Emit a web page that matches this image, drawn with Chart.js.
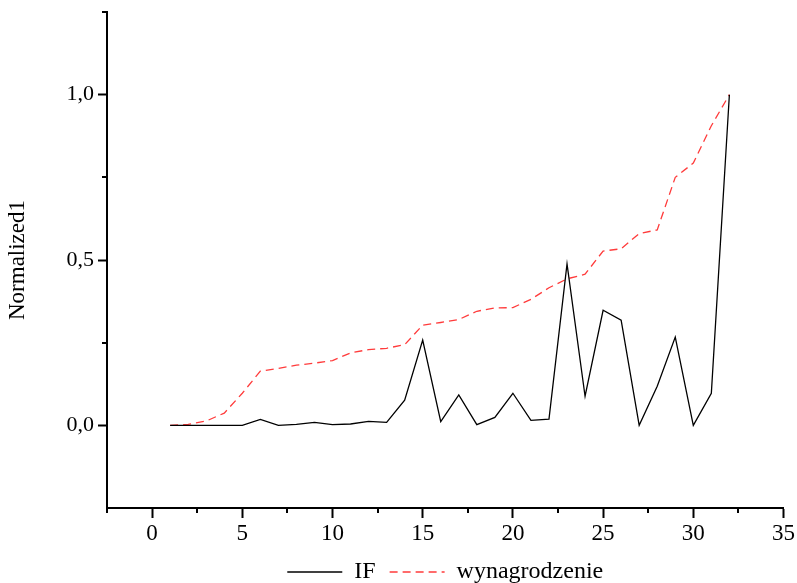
<!DOCTYPE html>
<html>
<head>
<meta charset="utf-8">
<script src="https://cdn.jsdelivr.net/npm/chart.js@4.4.0/dist/chart.umd.min.js"></script>
<style>
  html, body { margin: 0; padding: 0; background: #fff; }
  #wrap { width: 797px; height: 583px; }
</style>
</head>
<body>
<div id="wrap"><canvas id="chart"></canvas></div>
<script>
const xValues = [1, 2, 3, 4, 5, 6, 7, 8, 9, 10, 11, 12, 13, 14, 15, 16,
  17, 18, 19, 20, 21, 22, 23, 24, 25, 26, 27, 28, 29, 30, 31, 32];
const ifValues = [0.0, 0.0, 0.0, 0.0, 0.0, 0.018, 0.0, 0.003, 0.009, 0.002, 0.004, 0.012,
  0.009, 0.076, 0.258, 0.011, 0.092, 0.002, 0.024, 0.097, 0.015, 0.019,
  0.488, 0.088, 0.348, 0.318, 0.0, 0.118, 0.267, 0.0, 0.097, 1.0];
const wageValues = [0.0, 0.003, 0.013, 0.037, 0.097, 0.164, 0.172, 0.182, 0.188, 0.196,
  0.219, 0.229, 0.233, 0.244, 0.303, 0.311, 0.32, 0.345, 0.355, 0.356, 0.381,
  0.416, 0.443, 0.457, 0.527, 0.534, 0.58, 0.591, 0.75, 0.793, 0.906, 1.0];
const xTicks = [0, 5, 10, 15, 20, 25, 30, 35];
const xMinorTicks = [-2.5, 2.5, 7.5, 12.5, 17.5, 22.5, 27.5, 32.5];
const yTicks = [0, 0.5, 1.0];
const yMinorTicks = [0.25, 0.75, 1.25];

const FONT = '"Liberation Serif", "DejaVu Serif", serif';

// short outward ticks between the labelled ones
const minorTicks = {
  id: 'minorTicks',
  afterDraw(chart) {
    const { ctx, scales: { x, y } } = chart;
    ctx.save();
    ctx.strokeStyle = '#000';
    ctx.lineWidth = 2;
    ctx.beginPath();
    xMinorTicks.forEach(v => {
      const px = Math.round(x.getPixelForValue(v));
      ctx.moveTo(px, y.bottom);
      ctx.lineTo(px, y.bottom + 5);
    });
    yMinorTicks.forEach(v => {
      const py = Math.round(y.getPixelForValue(v));
      ctx.moveTo(x.left, py);
      ctx.lineTo(x.left - 5, py);
    });
    ctx.stroke();
    ctx.restore();
  }
};

new Chart(document.getElementById('chart'), {
  type: 'line',
  data: {
    datasets: [
      {
        label: 'IF',
        data: xValues.map((v, i) => ({ x: v, y: ifValues[i] })),
        borderColor: '#000',
        borderWidth: 1.3,
        pointRadius: 0,
        tension: 0
      },
      {
        label: 'wynagrodzenie',
        data: xValues.map((v, i) => ({ x: v, y: wageValues[i] })),
        borderColor: '#ff3b3b',
        borderWidth: 1.3,
        borderDash: [8, 5],
        pointRadius: 0,
        tension: 0
      }
    ]
  },
  options: {
    responsive: true,
    maintainAspectRatio: false,
    animation: false,
    layout: { padding: { top: 12, right: 11, left: 0, bottom: -11 } },
    plugins: {
      tooltip: { enabled: false },
      legend: {
        position: 'bottom',
        fullSize: false,
        labels: {
          usePointStyle: true,
          pointStyle: 'line',
          pointStyleWidth: 55,
          color: '#000',
          padding: 14,
          font: { family: FONT, size: 24 },
          generateLabels: chart => {
            const items = Chart.defaults.plugins.legend.labels.generateLabels(chart);
            items.forEach(it => {
              const ds = chart.data.datasets[it.datasetIndex];
              it.lineDash = ds.borderDash || [];
              it.lineWidth = ds.borderWidth;
            });
            return items;
          }
        }
      }
    },
    scales: {
      x: {
        type: 'linear',
        min: -2.5,
        max: 35,
        afterBuildTicks: s => { s.ticks = xTicks.map(v => ({ value: v })); },
        afterFit: s => { s.height = 38; },
        ticks: { color: '#000', font: { family: FONT, size: 23 }, padding: 2, maxRotation: 0 },
        grid: { drawOnChartArea: false, tickLength: 10, tickColor: '#000', tickWidth: 2 },
        border: { color: '#000', width: 2 }
      },
      y: {
        min: -0.25,
        max: 1.25,
        afterBuildTicks: s => { s.ticks = yTicks.map(v => ({ value: v })); },
        afterFit: s => { s.width = 107; s.paddingTop = 0; },
        ticks: {
          color: '#000',
          font: { family: FONT, size: 22 },
          padding: 4,
          callback: v => v.toFixed(1).replace('.', ',')
        },
        grid: { drawOnChartArea: false, tickLength: 9, tickColor: '#000', tickWidth: 2 },
        border: { color: '#000', width: 2 },
        title: {
          display: true,
          text: 'Normalized1',
          color: '#000',
          font: { family: FONT, size: 23 },
          padding: { top: 4, bottom: 0 }
        }
      }
    }
  },
  plugins: [minorTicks]
});
</script>
</body>
</html>
